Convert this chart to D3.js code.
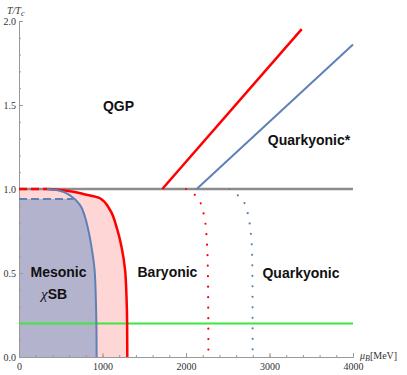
<!DOCTYPE html>
<html>
<head>
<meta charset="utf-8">
<script src="https://cdn.jsdelivr.net/npm/d3@7"></script>
<style>
  body { margin: 0; background: #fff; }
  .region { font-family: "Liberation Sans", Arial, sans-serif; font-weight: bold; font-size: 14px; fill: #111; }
</style>
</head>
<body>
<div id="chart"></div>
<script>
// phase boundaries, [muB (MeV), T/Tc]
var redDashed = [[0, 1.0], [350, 1.0]];
var redSolid = [[350, 1.0], [570, 0.99], [770, 0.97], [970, 0.945], [1090, 0.875], [1170, 0.77],
                [1230, 0.65], [1270, 0.52], [1288, 0.35], [1295, 0.2], [1297, 0]];
var blueDashed = [[0, 0.94], [650, 0.94]];
var blueSolid = [[335, 1.0], [490, 0.99], [630, 0.955], [730, 0.905], [790, 0.835], [830, 0.756],
                 [870, 0.65], [905, 0.52], [920, 0.35], [928, 0.15], [930, 0]];
var redDotted = [[2000, 1.0], [2036, 0.99], [2136, 0.95], [2192, 0.89], [2220, 0.83], [2240, 0.766],
                 [2247, 0.70], [2255, 0.64], [2262, 0.5], [2266, 0.3], [2268, 0]];
var blueDotted = [[2520, 1.0], [2555, 0.984], [2659, 0.948], [2719, 0.89], [2750, 0.83], [2770, 0.766],
                  [2783, 0.70], [2790, 0.64], [2795, 0.5], [2797, 0.3], [2798, 0]];
var redLine = [[1716, 1.0], [3386, 1.952]];
var blueLine = [[2128, 1.0], [4000, 1.86]];
var tcLine = [[0, 1.0], [4000, 1.0]];
var greenLine = [[0, 0.2], [4000, 0.2]];

var labels = [
  {text: "QGP", mu: 1192, t: 1.464},
  {text: "Quarkyonic*", mu: 3473, t: 1.262},
  {text: "Mesonic", mu: 473, t: 0.476},
  {text: "Baryonic", mu: 1778, t: 0.476},
  {text: "Quarkyonic", mu: 3377, t: 0.47}
];
var chiLabel = {mu: 420, t: 0.345};

var xTicks = [0, 1000, 2000, 3000, 4000];
var yTicks = [0, 0.5, 1.0, 1.5, 2.0];

var width = 407, height = 375;

var svg = d3.select("#chart").append("svg")
    .attr("width", width)
    .attr("height", height);

var x = d3.scaleLinear().domain([0, 4000]).range([19, 353]);
var y = d3.scaleLinear().domain([0, 2]).range([357, 21]);

var line = d3.line()
    .x(function(d) { return x(d[0]); })
    .y(function(d) { return y(d[1]); });

var smooth = d3.line()
    .x(function(d) { return x(d[0]); })
    .y(function(d) { return y(d[1]); })
    .curve(d3.curveMonotoneY);

// filled regions: from the T axis out to the boundary curve
var fill = d3.area()
    .y(function(d) { return y(d[1]); })
    .x0(x(0))
    .x1(function(d) { return x(d[0]); })
    .curve(d3.curveMonotoneY);

svg.append("path")
    .attr("d", fill(redSolid))
    .style("fill", "#ffd6d6");

var topT = blueDashed[0][1];
var purpleEdge = [blueDashed[1]].concat(blueSolid.filter(function(d) { return d[1] < topT; }));
svg.append("path")
    .attr("d", fill(purpleEdge))
    .style("fill", "#b4b3cd");

// axes
svg.append("g")
    .attr("transform", "translate(0," + y(0) + ")")
    .call(d3.axisBottom(x).tickValues(d3.range(0, 4001, 200)).tickSize(-2).tickSizeOuter(0).tickFormat(""));
svg.append("g")
    .attr("transform", "translate(0," + y(0) + ")")
    .call(d3.axisBottom(x).tickValues(xTicks).tickSize(-4).tickSizeOuter(0).tickPadding(6).tickFormat(d3.format("d")));

svg.append("g")
    .attr("transform", "translate(" + x(0) + ",0)")
    .call(d3.axisLeft(y).tickValues(d3.range(0, 2.01, 0.1)).tickSize(-2).tickSizeOuter(0).tickFormat(""));
svg.append("g")
    .attr("transform", "translate(" + x(0) + ",0)")
    .call(d3.axisLeft(y).tickValues(yTicks).tickSize(-4).tickSizeOuter(0).tickPadding(3).tickFormat(d3.format(".1f")));

svg.selectAll(".domain, .tick line").style("stroke", "#999");
svg.selectAll(".tick text")
    .attr("font-family", null)
    .style("font-family", "'Liberation Serif', 'Times New Roman', serif")
    .style("font-size", "10px")
    .style("fill", "#333");

// lines
svg.append("path").attr("d", line(tcLine))
    .style("fill", "none").style("stroke", "#8c8c8c").style("stroke-width", 2.5);
svg.append("path").attr("d", line(greenLine))
    .style("fill", "none").style("stroke", "#3ce63c").style("stroke-width", 2);

var red = "#ff0000", blue = "#5e81b5";

svg.append("path").attr("d", line(redDashed))
    .style("fill", "none").style("stroke", red).style("stroke-width", 2.5).style("stroke-dasharray", "8,4");
svg.append("path").attr("d", smooth(redSolid))
    .style("fill", "none").style("stroke", red).style("stroke-width", 2.5);
svg.append("path").attr("d", line(blueDashed))
    .style("fill", "none").style("stroke", blue).style("stroke-width", 2).style("stroke-dasharray", "8,4");
svg.append("path").attr("d", smooth(blueSolid))
    .style("fill", "none").style("stroke", blue).style("stroke-width", 2);

svg.append("path").attr("d", smooth(redDotted))
    .style("fill", "none").style("stroke", red).style("stroke-width", 2.2)
    .style("stroke-linecap", "round").style("stroke-dasharray", "0,10.5");
svg.append("path").attr("d", smooth(blueDotted))
    .style("fill", "none").style("stroke", blue).style("stroke-width", 2.2)
    .style("stroke-linecap", "round").style("stroke-dasharray", "0,10.5");

svg.append("path").attr("d", line(redLine))
    .style("fill", "none").style("stroke", red).style("stroke-width", 2.5);
svg.append("path").attr("d", line(blueLine))
    .style("fill", "none").style("stroke", blue).style("stroke-width", 2);

// region labels
svg.selectAll(".region")
    .data(labels)
    .enter().append("text")
    .attr("class", "region")
    .attr("x", function(d) { return x(d.mu); })
    .attr("y", function(d) { return y(d.t); })
    .attr("text-anchor", "middle")
    .text(function(d) { return d.text; });

var chi = svg.append("text")
    .attr("class", "region")
    .attr("x", x(chiLabel.mu))
    .attr("y", y(chiLabel.t))
    .attr("text-anchor", "middle");
chi.append("tspan")
    .style("font-family", "'Liberation Serif', serif").style("font-style", "italic")
    .style("font-weight", "normal").style("font-size", "15px")
    .text("\u03C7");
chi.append("tspan").text("SB");

// axis titles
var yTitle = svg.append("text")
    .attr("x", 7).attr("y", 14)
    .style("font-family", "'Liberation Serif', serif").style("font-size", "10px").style("font-style", "italic")
    .style("fill", "#333");
yTitle.append("tspan").text("T/T");
yTitle.append("tspan").attr("dy", 2).style("font-size", "8px").text("c");

var xTitle = svg.append("text")
    .attr("x", 360).attr("y", 359)
    .style("font-family", "'Liberation Serif', serif").style("font-size", "10px")
    .style("fill", "#333");
xTitle.append("tspan").style("font-style", "italic").text("\u03BC");
xTitle.append("tspan").attr("dy", 2).style("font-style", "italic").style("font-size", "8px").text("B");
xTitle.append("tspan").attr("dy", -2).text("[MeV]");
</script>
</body>
</html>
